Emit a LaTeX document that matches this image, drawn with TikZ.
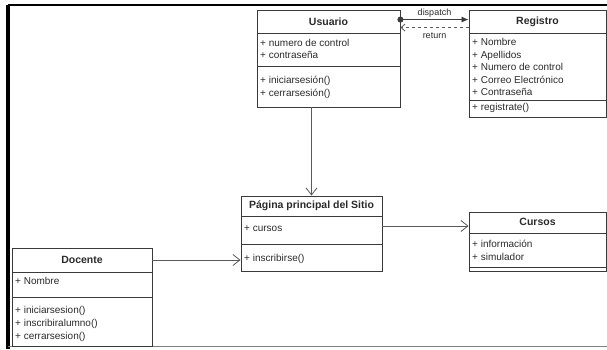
\documentclass[tikz,border=0pt]{standalone}
\usepackage{fontspec}
\setmainfont{Liberation Sans}
\usepackage{xcolor}
\usepackage{tikz}
\usetikzlibrary{positioning,shapes,arrows.meta}

\definecolor{boxgray}{HTML}{3A3A3A}
\definecolor{linegray}{HTML}{5A5A5A}
\definecolor{textgray}{HTML}{2A2A2A}

\begin{document}
\begin{tikzpicture}[x = 1pt, y = -1pt,
  classbox/.style = {draw = boxgray, line width = 0.9pt, rectangle, inner sep = 0pt},
  classtitle/.style = {font = \fontsize{10.5}{12}\selectfont\bfseries, text = textgray},
  members/.style = {anchor = north west, align = left, inner sep = 0pt, text = textgray},
  divider/.style = {draw = boxgray, line width = 0.8pt},
  assoc/.style = {draw = linegray, line width = 0.8pt, -{Straight Barb[length = 7pt, width = 11pt]}},
  msglabel/.style = {font = \fontsize{9}{11}\selectfont, text = textgray}]

  \useasboundingbox (0, 0) rectangle (607, 349);

  \draw[line width = 2.5pt] (8, 5) -- (607, 5);
  \draw[line width = 3.5pt] (8, 5) -- (8, 349);
  \draw[gray, line width = 0.8pt] (8, 346) -- (607, 346);

  \node[classbox, minimum width = 143pt, minimum height = 97pt] (usuario) at (328.5, 58.5){};
  \node[classtitle] (usuarioT) at (328.5, 22){
    Usuario
  };
  \draw[divider] (257, 33) -- (400, 33);
  \draw[divider] (257, 66) -- (400, 66);
  \node[members, font = \fontsize{10}{12}\selectfont] (usuarioA) at (260, 39.5){
    + numero de control\\
    + contraseña
  };
  \node[members, font = \fontsize{10}{13}\selectfont] (usuarioM) at (260, 75.5){
    + iniciarsesión()\\
    + cerrarsesión()
  };

  \node[classbox, minimum width = 137pt, minimum height = 107pt] (registro) at (537.5, 63.5){};
  \node[classtitle] (registroT) at (537.5, 22){
    Registro
  };
  \draw[divider] (469, 33) -- (606, 33);
  \draw[divider] (469, 100) -- (606, 100);
  \node[members, font = \fontsize{10}{12.5}\selectfont] (registroA) at (472, 38.5){
    + Nombre\\
    + Apellidos\\
    + Numero de control\\
    + Correo Electrónico\\
    + Contraseña
  };
  \node[members, font = \fontsize{10}{12}\selectfont] (registroM) at (472, 103){
    + registrate()
  };

  \node[classbox, minimum width = 141pt, minimum height = 75pt] (pagina) at (311.5, 233.5){};
  \node[classtitle] (paginaT) at (311.5, 206){
    Página principal del Sitio
  };
  \draw[divider] (241, 216) -- (382, 216);
  \draw[divider] (241, 244) -- (382, 244);
  \node[members, font = \fontsize{10}{12}\selectfont] (paginaA) at (244, 225.5){
    + cursos
  };
  \node[members, font = \fontsize{10}{12}\selectfont] (paginaM) at (244, 254.5){
    + inscribirse()
  };

  \node[classbox, minimum width = 137pt, minimum height = 59pt] (cursos) at (537.5, 241.5){};
  \node[classtitle] (cursosT) at (537.5, 222){
    Cursos
  };
  \draw[divider] (469, 233) -- (606, 233);
  \draw[divider] (469, 267) -- (606, 267);
  \node[members, font = \fontsize{10}{13}\selectfont] (cursosA) at (472, 239.5){
    + información\\
    + simulador
  };

  \node[classbox, minimum width = 140pt, minimum height = 98pt] (docente) at (82, 297){};
  \node[classtitle] (docenteT) at (82, 260){
    Docente
  };
  \draw[divider] (12, 272) -- (152, 272);
  \draw[divider] (12, 297) -- (152, 297);
  \node[members, font = \fontsize{10}{12}\selectfont] (docenteA) at (15, 277.5){
    + Nombre
  };
  \node[members, font = \fontsize{10}{13}\selectfont] (docenteM) at (15, 306.5){
    + iniciarsesion()\\
    + inscribiralumno()\\
    + cerrarsesion()
  };

  \draw[draw = boxgray, line width = 0.8pt, shorten <= -3pt,
    {Circle[length = 6pt]}-{Latex[length = 7pt, width = 6pt]}]
    ([yshift = -10pt]usuario.north east) -- node[above = -1.5pt, msglabel]{dispatch}
    ([yshift = -10pt]registro.north west);
  \draw[draw = linegray, line width = 0.8pt, dashed,
    -{Straight Barb[length = 4pt, width = 7pt]}]
    ([yshift = -18pt]registro.north west) -- node[below = 1.5pt, msglabel]{return}
    ([yshift = -18pt]usuario.north east);

  \draw[assoc] (usuario.south -| pagina.north) -- (pagina.north);
  \draw[assoc] ([yshift = 7.5pt]pagina.east) -- ([yshift = 7.5pt]pagina.east -| cursos.west);
  \draw[assoc] ([yshift = 37pt]docente.east) -- ([yshift = 37pt]docente.east -| pagina.west);
\end{tikzpicture}
\end{document}
